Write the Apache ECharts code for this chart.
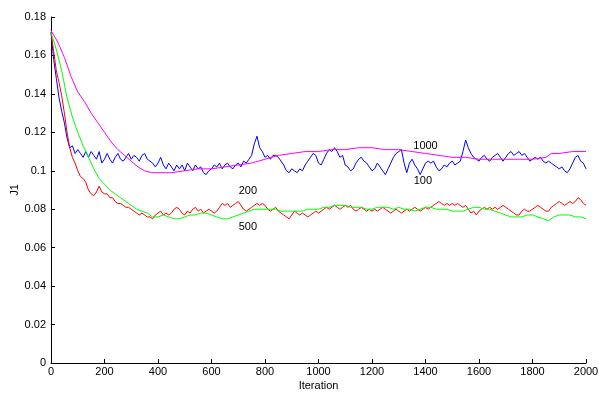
<!DOCTYPE html>
<html>
<head>
<meta charset="utf-8">
<script src="https://cdn.jsdelivr.net/npm/echarts@6/dist/echarts.min.js"></script>
<style>html,body{margin:0;padding:0;background:#fff}#c{width:599px;height:394px}</style>
</head>
<body>
<div id="c"></div>
<script>
// iterations step 10 for the noisy series (0..2000)
const blue100 = [0.172,0.158,0.148,0.138,0.131,0.125,0.117,0.112,0.113,0.109,0.111,0.109,0.107,0.110,0.107,0.110,0.108,0.106,0.110,0.104,
0.106,0.109,0.106,0.104,0.107,0.109,0.106,0.105,0.107,0.109,0.106,0.108,0.107,0.105,0.108,0.109,0.106,0.105,0.104,0.102,
0.104,0.107,0.103,0.101,0.104,0.102,0.100,0.103,0.101,0.103,0.100,0.104,0.102,0.100,0.103,0.101,0.102,0.099,0.098,0.100,
0.101,0.103,0.102,0.104,0.101,0.103,0.104,0.102,0.101,0.103,0.104,0.102,0.105,0.104,0.106,0.108,0.114,0.118,0.112,0.110,
0.107,0.108,0.106,0.108,0.108,0.107,0.105,0.103,0.100,0.099,0.101,0.100,0.099,0.101,0.100,0.103,0.105,0.107,0.109,0.108,
0.104,0.103,0.106,0.109,0.111,0.110,0.112,0.110,0.107,0.108,0.103,0.102,0.100,0.101,0.104,0.106,0.107,0.105,0.104,0.102,
0.100,0.101,0.104,0.102,0.100,0.098,0.101,0.104,0.107,0.109,0.110,0.111,0.104,0.099,0.104,0.106,0.103,0.101,0.098,0.101,
0.104,0.105,0.104,0.105,0.102,0.100,0.101,0.103,0.102,0.104,0.105,0.103,0.104,0.105,0.110,0.116,0.112,0.109,0.107,0.106,
0.105,0.107,0.108,0.106,0.105,0.107,0.108,0.109,0.107,0.105,0.107,0.109,0.110,0.108,0.109,0.110,0.108,0.109,0.107,0.105,
0.106,0.107,0.106,0.107,0.105,0.104,0.105,0.104,0.103,0.102,0.101,0.102,0.100,0.099,0.101,0.104,0.107,0.108,0.105,0.104,
0.101];
const red200 = [0.172,0.162,0.152,0.146,0.139,0.130,0.120,0.112,0.107,0.104,0.100,0.097,0.096,0.094,0.090,0.088,0.087,0.089,0.092,0.089,
0.088,0.088,0.086,0.086,0.084,0.083,0.083,0.082,0.081,0.081,0.080,0.079,0.078,0.077,0.078,0.077,0.076,0.076,0.075,0.077,
0.078,0.079,0.077,0.078,0.077,0.078,0.080,0.081,0.080,0.078,0.077,0.079,0.078,0.080,0.081,0.079,0.080,0.078,0.079,0.080,
0.079,0.078,0.079,0.081,0.083,0.082,0.083,0.081,0.082,0.083,0.084,0.082,0.080,0.079,0.080,0.081,0.082,0.083,0.082,0.083,
0.082,0.080,0.079,0.080,0.081,0.079,0.078,0.077,0.076,0.075,0.077,0.079,0.078,0.077,0.078,0.077,0.076,0.077,0.078,0.079,
0.078,0.079,0.080,0.081,0.080,0.081,0.082,0.081,0.080,0.081,0.082,0.081,0.082,0.080,0.079,0.080,0.081,0.080,0.079,0.080,
0.079,0.080,0.079,0.080,0.081,0.080,0.079,0.078,0.079,0.080,0.079,0.078,0.079,0.080,0.079,0.080,0.081,0.080,0.079,0.080,
0.081,0.080,0.081,0.082,0.083,0.084,0.083,0.082,0.083,0.082,0.083,0.082,0.083,0.082,0.081,0.082,0.080,0.078,0.079,0.077,
0.079,0.080,0.081,0.080,0.081,0.080,0.081,0.080,0.081,0.082,0.081,0.080,0.079,0.078,0.077,0.077,0.079,0.080,0.079,0.079,
0.080,0.081,0.082,0.081,0.080,0.079,0.079,0.081,0.082,0.083,0.084,0.083,0.082,0.083,0.084,0.083,0.084,0.086,0.085,0.083,
0.082];
// iterations step 20 (0..2000)
const green500 = [0.172,0.163,0.152,0.138,0.128,0.120,0.113,0.107,0.101,0.096,0.093,0.090,0.088,0.086,0.084,0.082,0.080,0.079,0.078,0.076,
0.076,0.077,0.076,0.075,0.075,0.076,0.077,0.077,0.078,0.078,0.077,0.076,0.075,0.075,0.076,0.077,0.078,0.079,0.080,0.080,
0.080,0.080,0.080,0.079,0.079,0.079,0.079,0.079,0.080,0.080,0.080,0.081,0.081,0.082,0.082,0.082,0.081,0.081,0.081,0.080,
0.080,0.081,0.081,0.081,0.080,0.081,0.080,0.080,0.079,0.080,0.081,0.081,0.080,0.080,0.080,0.079,0.079,0.079,0.080,0.081,
0.081,0.080,0.080,0.079,0.078,0.077,0.076,0.076,0.076,0.077,0.077,0.076,0.075,0.074,0.076,0.077,0.077,0.077,0.076,0.076,
0.075];
const magentaIter = [0,25,50,75,100,125,150,175,200,225,250,275,300,325,350,375,400,450,500,550,600,650,700,750,800,850,900,950,1000,
1050,1100,1150,1200,1250,1300,1350,1400,1450,1500,1550,1600,1650,1700,1750,1800,1850,1870,1900,1950,2000];
const magenta1000 = [0.173,0.167,0.159,0.149,0.141,0.136,0.130,0.125,0.120,0.115,0.111,0.108,0.105,0.102,0.100,0.099,0.099,0.099,0.100,0.101,
0.101,0.102,0.103,0.104,0.106,0.108,0.109,0.110,0.110,0.111,0.111,0.112,0.112,0.111,0.111,0.110,0.109,0.108,0.107,0.107,
0.106,0.106,0.106,0.106,0.106,0.107,0.109,0.109,0.110,0.110];
const xTicks = {min:0, max:2000, interval:200};
const yTicks = {min:0, max:0.18, interval:0.02};
const labels = [
  {text:'100', x:1390, y:0.0946, series:0},
  {text:'200', x:736, y:0.0894, series:1},
  {text:'500', x:736, y:0.0707, series:2},
  {text:'1000', x:1400, y:0.1128, series:3}
];

const pair = (arr, step) => arr.map((v,i)=>[i*step, v]);
const FONT = 'Liberation Sans, Arial, Helvetica, sans-serif';
const seriesDefs = [
  {name:'100', color:'#0000ff', data:pair(blue100,10)},
  {name:'200', color:'#ff0000', data:pair(red200,10)},
  {name:'500', color:'#00ff00', data:pair(green500,20)},
  {name:'1000', color:'#ff00ff', data:magenta1000.map((v,i)=>[magentaIter[i], v])}
];
const series = seriesDefs.map((s, idx) => ({
  name:s.name, type:'line', data:s.data, showSymbol:false, symbol:'none',
  lineStyle:{color:s.color, width:1}, itemStyle:{color:s.color}, animation:false, z: 2,
  markPoint:{
    symbol:'circle', symbolSize:0, animation:false,
    label:{show:true, position:'inside', color:'#000', fontSize:11, fontFamily:FONT, formatter:p=>p.name},
    data: labels.filter(l=>l.series===idx).map(l=>({name:l.text, coord:[l.x, l.y]}))
  }
}));
const axisCommon = {
  axisLine:{show:true, onZero:false, lineStyle:{color:'#000', width:1}},
  axisTick:{show:true, inside:true, length:4, lineStyle:{color:'#000'}},
  splitLine:{show:false},
  axisLabel:{color:'#000', fontSize:11, fontFamily:FONT},
  nameTextStyle:{color:'#000', fontSize:11, fontFamily:FONT}
};
const chart = echarts.init(document.getElementById('c'), null, {renderer:'canvas'});
chart.setOption({
  backgroundColor:'#fff',
  animation:false,
  grid:{left:51, right:13, top:17, bottom:31, containLabel:false, outerBoundsMode:'none'},
  xAxis:Object.assign({type:'value', min:xTicks.min, max:xTicks.max, interval:xTicks.interval,
    name:'Iteration', nameLocation:'middle', nameGap:17, nameMoveOverlap:false}, axisCommon,
    {axisLabel:Object.assign({}, axisCommon.axisLabel, {margin:3, formatter:v=>String(v)})}),
  yAxis:Object.assign({type:'value', min:yTicks.min, max:yTicks.max, interval:yTicks.interval,
    name:'J1', nameLocation:'middle', nameGap:31, nameMoveOverlap:false}, axisCommon,
    {axisLabel:Object.assign({}, axisCommon.axisLabel, {margin:5, formatter:v=>String(parseFloat(v.toFixed(2)))})}),
  series:series
});
</script>
</body>
</html>
